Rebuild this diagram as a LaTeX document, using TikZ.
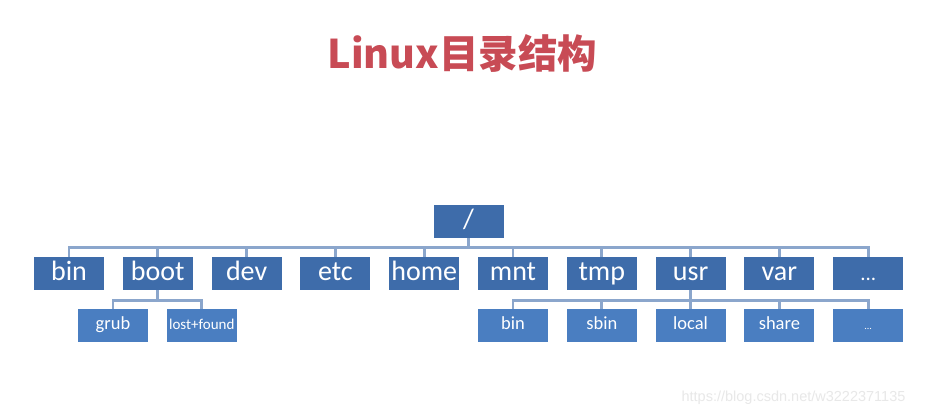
\documentclass[tikz,border=0pt]{standalone}
\usepackage{fontspec}
\usepackage{tikz}
\usetikzlibrary{positioning}
\newfontfamily\cjk{Noto Sans CJK SC}
\newfontfamily\dirfont{Carlito}
\newfontfamily\urlfont{Liberation Sans}
\definecolor{titred}{HTML}{C84B55}
\definecolor{dirtop}{HTML}{3E6CAA}
\definecolor{dirsub}{HTML}{4A7EC1}
\definecolor{bracec}{HTML}{8BA6CC}
\definecolor{wmark}{HTML}{E8E8E8}
\tikzset{
  dirbox/.style={rectangle, fill=#1, text=white, minimum width=70pt, minimum height=33pt,
                 inner sep=0pt, outer sep=0pt},
  topdir/.style={dirbox=dirtop, text height=18pt, text depth=4pt,
                 font=\dirfont\fontsize{28}{28}\selectfont},
  subdir/.style={dirbox=dirsub, text height=12pt, text depth=2.8pt,
                 font=\dirfont\fontsize{18.5}{18.5}\selectfont},
  link/.style={draw=bracec, line width=2.8pt},
}
\begin{document}
\begin{tikzpicture}[x=1pt,y=-1pt,node distance=18.8pt]
     \fill[white](0,0) rectangle (926,415);
     \useasboundingbox (0,0) rectangle (926,415);
     \node[text=titred, font=\cjk\bfseries\fontsize{39.5}{39.5}\selectfont] (title) at (462.5,53){Linux目录结构};
     % first level
     \node[topdir] (root) at (468.5,221.5){/};
     \node[topdir] (bin) at (69,273.5){bin};
     \node[topdir, right=of bin] (boot){boot};
     \node[topdir, right=of boot] (dev){dev};
     \node[topdir, right=of dev] (etc){etc};
     \node[topdir, right=of etc] (home){home};
     \node[topdir, right=of home] (mnt){mnt};
     \node[topdir, right=of mnt] (tmp){tmp};
     \node[topdir, right=of tmp] (usr){usr};
     \node[topdir, right=of usr] (var){var};
     \node[topdir, right=of var, font=\dirfont\fontsize{21}{21}\selectfont] (more){...};
     % second level
     \node[subdir, below=of boot, xshift=-44.8pt] (grub){grub};
     \node[subdir, right=of grub, font=\dirfont\fontsize{15}{15}\selectfont] (lostfound){lost+found};
     \node[subdir, below=of mnt] (ubin){bin};
     \node[subdir, below=of tmp] (usbin){sbin};
     \node[subdir, below=of usr] (ulocal){local};
     \node[subdir, below=of var] (ushare){share};
     \node[subdir, below=of more, font=\dirfont\fontsize{10}{10}\selectfont] (umore){...};
     \draw[link](root.south)--++(0,9.5)-|(bin.north); \draw[link](root.south)--++(0,9.5)-|(boot.north);
     \draw[link](root.south)--++(0,9.5)-|(dev.north); \draw[link](root.south)--++(0,9.5)-|(etc.north);
     \draw[link](root.south)--++(0,9.5)-|(home.north); \draw[link](root.south)--++(0,9.5)-|(mnt.north);
     \draw[link](root.south)--++(0,9.5)-|(tmp.north); \draw[link](root.south)--++(0,9.5)-|(usr.north);
     \draw[link](root.south)--++(0,9.5)-|(var.north); \draw[link](root.south)--++(0,9.5)-|(more.north);
     \draw[link](boot.south)--++(0,10.5)-|(grub.north); \draw[link](boot.south)--++(0,10.5)-|(lostfound.north);
     \draw[link](usr.south)--++(0,10.5)-|(ubin.north); \draw[link](usr.south)--++(0,10.5)-|(usbin.north);
     \draw[link](usr.south)--++(0,10.5)-|(ulocal.north); \draw[link](usr.south)--++(0,10.5)-|(ushare.north);
     \draw[link](usr.south)--++(0,10.5)-|(umore.north);
     \node[text=wmark, font=\urlfont\fontsize{14.5}{14.5}\selectfont] (url) at (793.5,398){https://blog.csdn.net/w3222371135};
   \end{tikzpicture}
\end{document}
